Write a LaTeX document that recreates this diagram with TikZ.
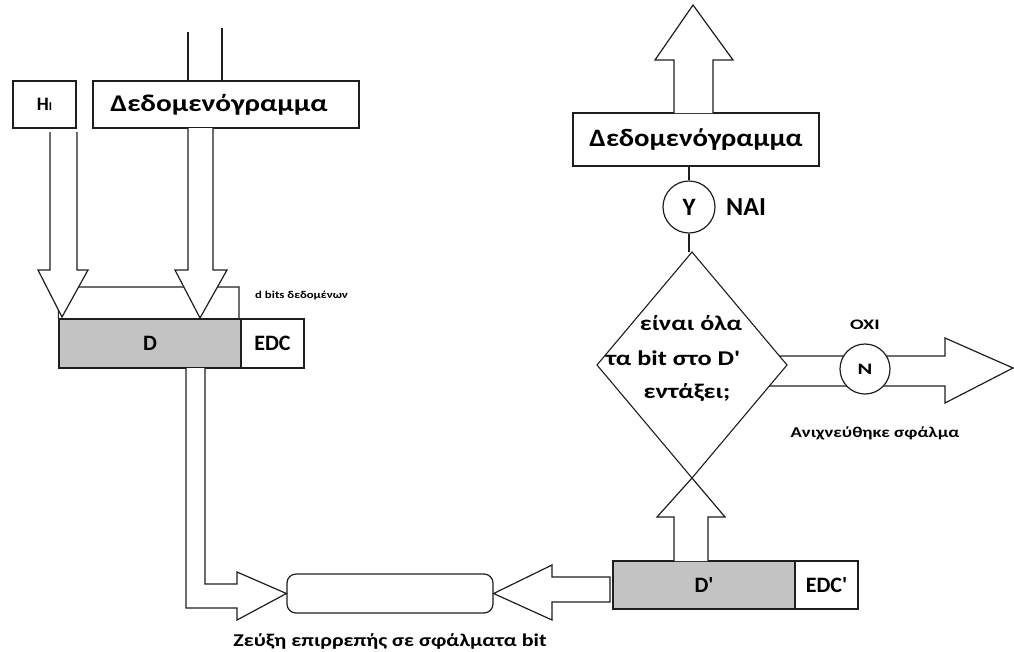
\documentclass[tikz,border=0pt]{standalone}
\usepackage{fontspec}
\setmainfont{Carlito}[Ligatures=TeXOff]
% horizontally widened Carlito faces for the captions
\newfontfamily\wideA{Carlito}[FakeStretch=1.22,Ligatures=TeXOff]
\newfontfamily\wideB{Carlito}[FakeStretch=1.15,Ligatures=TeXOff]
\newfontfamily\wideC{Carlito}[FakeStretch=1.25,Ligatures=TeXOff]
\newfontfamily\wideD{Carlito}[FakeStretch=1.4,Ligatures=TeXOff]
\usetikzlibrary{calc}
\definecolor{fieldgray}{HTML}{C3C3C3}
\definecolor{ink}{HTML}{1E1E1E}

\begin{document}
\begin{tikzpicture}[x=1pt,y=-1pt,line join=miter]
\tikzset{
  box/.style={draw=ink,line width=1.4pt,fill=white,inner sep=0pt,font=\bfseries},
  field/.style={box,fill=fieldgray},
  blockarrow/.style={draw=ink,line width=1.2pt,fill=white},
  plainline/.style={draw=ink,line width=1.2pt},
  thinline/.style={draw=ink,line width=1.1pt},
  ring/.style={draw=ink,line width=1.2pt,fill=white,circle,inner sep=0pt,minimum size=52pt,font=\bfseries},
  caption/.style={inner sep=0pt,font=\bfseries}
}
\useasboundingbox (0,0) rectangle (1014,651);

% ---- sender side ----
\node[box,minimum width=63pt,minimum height=47pt,font=\bfseries\fontsize{19}{19}\selectfont] (hdr) at (44.5,104.5) {H\fontsize{12}{12}\selectfont I};
\node[box,minimum width=266pt,minimum height=47pt,font=\wideA\bfseries\fontsize{24}{24}\selectfont] (dg1) at (226,104.5) {Δεδομενόγραμμα\hspace*{14pt}};

% incoming lines above the datagram
\draw[plainline] (188,32) -- (188,81);
\draw[plainline] (222,28) -- (222,81);

% data field D and EDC
\node[field,minimum width=182pt,minimum height=49pt,font=\bfseries\fontsize{22}{22}\selectfont] (dfield) at (150,343.5) {D};
\node[box,minimum width=63pt,minimum height=49pt,font=\bfseries\fontsize{22}{22}\selectfont] (edc) at (272.5,343.5) {EDC};

% bracket marking the d data bits
\draw[thinline] (dfield.north west) -- (59,287) -- (239,287) -- (239,319);
\node[caption,anchor=west,font=\wideA\bfseries\fontsize{10.5}{10.5}\selectfont] (dbits) at (255,296) {d bits δεδομένων};

% arrow from header down to D
\draw[blockarrow] (50,132) -- (50,270) -- (38,270) -- (62,317) -- (88,270) -- (77,270) -- (77,132);
% arrow from datagram down to D
\draw[blockarrow] (188,128) -- (188,270) -- (175,270) -- (200,318) -- (227,270) -- (213,270) -- (213,128);

% ---- link ----
\node[draw=ink,line width=1.2pt,fill=white,rounded corners=9pt,minimum width=206pt,minimum height=39pt] (link) at (390,593.5) {};
\node[caption,font=\wideA\bfseries\fontsize{18}{18}\selectfont] (linklbl) at (390,641) {Ζεύξη επιρρεπής σε σφάλματα bit};

% bent arrow from D into the link
\draw[blockarrow] (186,368) -- (186,608) -- (237,608) -- (237,620) -- (link.west) -- (237,572) -- (237,584) -- (205,584) -- (205,368);

% ---- receiver side ----
\node[field,minimum width=182pt,minimum height=48pt,font=\bfseries\fontsize{22}{22}\selectfont] (drecv) at (704,585) {D'};
\node[box,minimum width=63pt,minimum height=48pt,font=\bfseries\fontsize{22}{22}\selectfont] (edcrecv) at (826.5,585) {EDC'};

% arrow from the link side of D' back into the link
\draw[blockarrow] (610,577) -- (552,577) -- (552,565) -- (link.east) -- (552,620) -- (552,602) -- (610,602) -- cycle;

% decision diamond
\coordinate (dc) at (692,365);
\draw[draw=ink,line width=1.1pt,fill=white] ($(dc)+(0,-113)$) coordinate (dtop) -- ($(dc)+(95,0)$) coordinate (dright) -- ($(dc)+(0,113)$) coordinate (dbot) -- ($(dc)+(-95,0)$) coordinate (dleft) -- cycle;
\node[caption,font=\wideC\bfseries\fontsize{21}{21}\selectfont] (q1) at (691,323) {είναι όλα};
\node[caption,font=\wideC\bfseries\fontsize{21}{21}\selectfont] (q2) at (673,358) {τα bit στο D'};
\node[caption,font=\wideC\bfseries\fontsize{21}{21}\selectfont] (q3) at (687,393) {εντάξει;};

% arrow from D' up into the diamond
\draw[blockarrow] (674,561) -- (674,517) -- (657,517) -- (dbot) -- (725,517) -- (708,517) -- (708,561);

% "no" branch
\draw[plainline] (779,356) -- (945,356) -- (945,338) -- (1013,368) -- (945,403) -- (945,386) -- (769,386);
\node[ring,minimum size=50pt,font=\wideD\bfseries\fontsize{16}{16}\selectfont] (no) at (865,369) {N};
\node[caption,font=\wideD\bfseries\fontsize{14.5}{14.5}\selectfont] (nolbl) at (865,325) {OXI};
\node[caption,font=\wideC\bfseries\fontsize{15}{15}\selectfont] (errlbl) at (875,433) {Ανιχνεύθηκε σφάλμα};

% "yes" branch
\node[ring,font=\bfseries\fontsize{25}{25}\selectfont] (yes) at (689,207) {Y};
\node[caption,anchor=west,font=\bfseries\fontsize{26}{26}\selectfont] (yeslbl) at (726,207) {NAI};
\draw[plainline] (yes.south) -- (yes.south |- dtop);

\node[box,minimum width=246pt,minimum height=53pt,font=\wideB\bfseries\fontsize{25}{25}\selectfont] (dg2) at (696,139.5) {Δεδομενόγραμμα};
\draw[plainline] (yes.north) -- (yes.north |- dg2.south);

% outgoing arrow above the delivered datagram
\draw[blockarrow] (674,113) -- (674,60) -- (655,60) -- (693,5) -- (733,60) -- (713,60) -- (713,113);
\end{tikzpicture}
\end{document}
